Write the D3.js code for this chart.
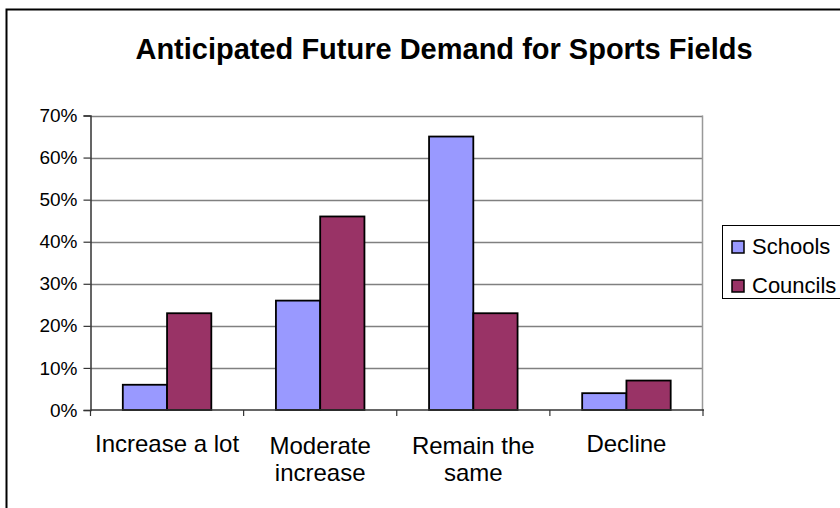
<!DOCTYPE html>
<html>
<head>
<meta charset="utf-8">
<script src="https://cdn.jsdelivr.net/npm/d3@7/dist/d3.min.js"></script>
<style>
  html, body { margin: 0; padding: 0; background: #fff; }
  svg { display: block; font-family: "Liberation Sans", Arial, sans-serif; }
</style>
</head>
<body>
<svg id="chart" width="840" height="508"></svg>
<script>
// Survey results: anticipated demand for sports fields
const categories = [["Increase a lot"], ["Moderate", "increase"], ["Remain the", "same"], ["Decline"]];
const seriesNames = ["Schools", "Councils"];
const schools = [6, 26, 65, 4];
const councils = [23, 46, 23, 7];
const yTicks = [0, 10, 20, 30, 40, 50, 60, 70];
const colors = ["#9999FF", "#993366"];

const svg = d3.select("#chart");
const W = 840, H = 508;

// Outer chart frame (runs past the right and bottom edges)
svg.append("rect")
  .attr("x", 6.5).attr("y", 9.5)
  .attr("width", W + 20).attr("height", H + 20)
  .attr("fill", "#fff").attr("stroke", "#000").attr("stroke-width", 2);

// Title
svg.append("text")
  .attr("x", 444).attr("y", 59)
  .attr("text-anchor", "middle")
  .attr("font-size", 29).attr("font-weight", "bold")
  .attr("fill", "#000")
  .text("Anticipated Future Demand for Sports Fields");

const plot = { left: 90.5, right: 703, top: 115.5, bottom: 410 };

const x0 = d3.scaleBand()
  .domain(d3.range(categories.length))
  .range([plot.left, plot.right]);

// Excel-style gap: bars of width w with 0.73w gap on each side of a group
const barW = x0.bandwidth() / (2 + 2 * 0.73);
const x1 = d3.scaleBand()
  .domain(d3.range(seriesNames.length))
  .range([0, barW * 2]);

const y = d3.scaleLinear().domain([0, 70]).range([plot.bottom, plot.top]);

// Gridlines
svg.append("g")
  .selectAll("line")
  .data(yTicks.filter(d => d > 0))
  .join("line")
  .attr("x1", plot.left).attr("x2", plot.right)
  .attr("y1", d => Math.round(y(d)) + 0.5).attr("y2", d => Math.round(y(d)) + 0.5)
  .attr("stroke", "#808080").attr("stroke-width", 1.5);

// Plot area right edge
svg.append("line")
  .attr("x1", plot.right - 0.5).attr("x2", plot.right - 0.5)
  .attr("y1", plot.top).attr("y2", plot.bottom)
  .attr("stroke", "#999").attr("stroke-width", 1.5);

// Bars
const series = [schools, councils];
const groups = svg.append("g")
  .selectAll("g")
  .data(categories.map((c, i) => i))
  .join("g")
  .attr("transform", i => `translate(${x0(i) + barW * 0.73},0)`);

groups.selectAll("rect")
  .data(i => series.map((s, k) => ({ k, v: s[i] })))
  .join("rect")
  .attr("x", d => x1(d.k))
  .attr("y", d => y(d.v))
  .attr("width", x1.bandwidth())
  .attr("height", d => y(0) - y(d.v))
  .attr("fill", d => colors[d.k])
  .attr("stroke", "#000").attr("stroke-width", 1.8);

// Y axis
const yAxis = d3.axisLeft(y)
  .tickValues(yTicks)
  .tickFormat(d => d + "%")
  .tickSize(7)
  .tickPadding(6);
const gy = svg.append("g")
  .attr("transform", `translate(${plot.left},0)`)
  .call(yAxis);
gy.select(".domain").attr("stroke", "#333").attr("stroke-width", 1.5);
gy.selectAll(".tick line").attr("stroke", "#333").attr("stroke-width", 1.2);
gy.selectAll(".tick text")
  .attr("font-size", 19).attr("fill", "#000")
  .attr("font-family", "Liberation Sans, Arial, sans-serif");

// X axis with ticks at category boundaries
const xAxisLine = svg.append("g");
xAxisLine.append("line")
  .attr("x1", plot.left).attr("x2", plot.right + 1)
  .attr("y1", plot.bottom).attr("y2", plot.bottom)
  .attr("stroke", "#333").attr("stroke-width", 1.5);
xAxisLine.selectAll("line.tk")
  .data(d3.range(categories.length + 1))
  .join("line")
  .attr("class", "tk")
  .attr("x1", i => i < categories.length ? x0(i) : plot.right)
  .attr("x2", i => i < categories.length ? x0(i) : plot.right)
  .attr("y1", plot.bottom).attr("y2", plot.bottom + 6)
  .attr("stroke", "#333").attr("stroke-width", 1.2);

// Category labels
const lab = svg.append("g")
  .selectAll("text")
  .data(categories.map((c, i) => ({ c, i })))
  .join("text")
  .attr("x", d => x0(d.i) + x0.bandwidth() / 2)
  .attr("y", d => d.c.length > 1 ? 454 : 452)
  .attr("text-anchor", "middle")
  .attr("font-size", 24).attr("fill", "#000");
lab.selectAll("tspan")
  .data(d => d.c.map((t, j) => ({ t, j, x: x0(d.i) + x0.bandwidth() / 2 })))
  .join("tspan")
  .attr("x", d => d.x)
  .attr("dy", d => d.j === 0 ? 0 : 27)
  .text(d => d.t);

// Legend
const legend = svg.append("g");
legend.append("rect")
  .attr("x", 722.5).attr("y", 225.5)
  .attr("width", 140).attr("height", 73)
  .attr("fill", "#fff").attr("stroke", "#000").attr("stroke-width", 1);
const li = legend.selectAll("g")
  .data(seriesNames.map((n, k) => ({ n, k })))
  .join("g")
  .attr("transform", d => `translate(732,${241 + d.k * 39})`);
li.append("rect")
  .attr("width", 12).attr("height", 12)
  .attr("fill", d => colors[d.k])
  .attr("stroke", "#000").attr("stroke-width", 1.5);
li.append("text")
  .attr("x", 20).attr("y", 12.5)
  .attr("font-size", 22).attr("fill", "#000")
  .text(d => d.n);
</script>
</body>
</html>
